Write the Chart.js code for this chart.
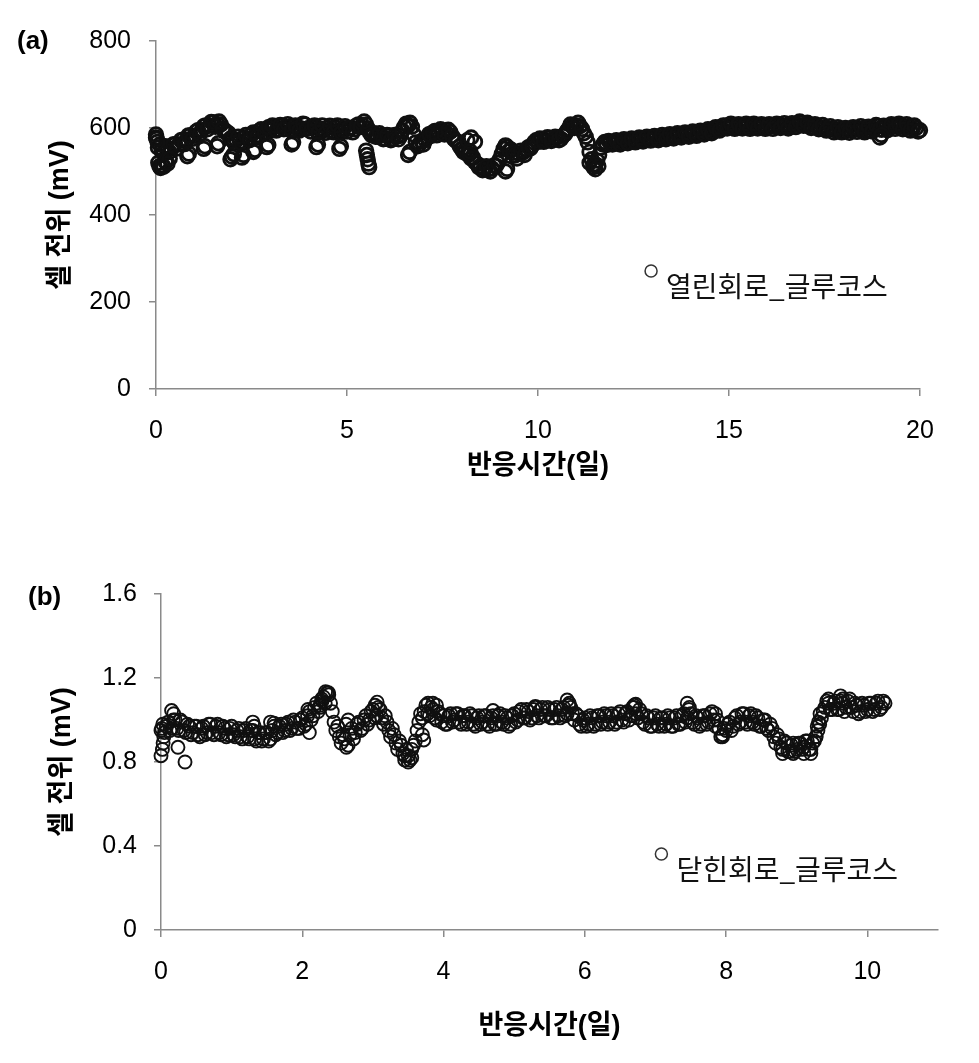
<!DOCTYPE html>
<html><head><meta charset="utf-8">
<script src="https://cdn.jsdelivr.net/npm/chart.js@4.4.1/dist/chart.umd.min.js"></script>
<style>
html,body{margin:0;padding:0;background:#fff;}
#wrap{position:relative;width:979px;height:1063px;overflow:hidden;}
#c1{position:absolute;left:0;top:0;}
#c2{position:absolute;left:0;top:520px;}
</style></head><body>
<div id="wrap"><canvas id="c1" width="979" height="520"></canvas><canvas id="c2" width="979" height="543"></canvas></div>
<script>
// ---------- (a) open circuit, glucose ----------
const daysA = [
0,0.1,0.2,0.3,0.4,0.5,0.6,0.7,0.8,0.9,
1,1.1,1.2,1.3,1.4,1.5,1.6,1.7,1.8,1.9,
2,2.1,2.2,2.3,2.4,2.5,2.6,2.7,2.8,2.9,
3,3.1,3.2,3.3,3.4,3.5,3.6,3.7,3.8,3.9,
4,4.1,4.2,4.3,4.4,4.5,4.6,4.7,4.8,4.9,
5,5.1,5.2,5.3,5.4,5.5,5.6,5.7,5.8,5.9,
6,6.1,6.2,6.3,6.4,6.5,6.6,6.7,6.8,6.9,
7,7.1,7.2,7.3,7.4,7.5,7.6,7.7,7.8,7.9,
8,8.1,8.2,8.3,8.4,8.5,8.6,8.7,8.8,8.9,
9,9.1,9.2,9.3,9.4,9.5,9.6,9.7,9.8,9.9,
10,10.1,10.2,10.3,10.4,10.5,10.6,10.7,10.8,10.9,
11,11.1,11.2,11.3,11.4,11.5,11.6,11.7,11.8,11.9,
12,12.1,12.2,12.3,12.4,12.5,12.6,12.7,12.8,12.9,
13,13.1,13.2,13.3,13.4,13.5,13.6,13.7,13.8,13.9,
14,14.1,14.2,14.3,14.4,14.5,14.6,14.7,14.8,14.9,
15,15.1,15.2,15.3,15.4,15.5,15.6,15.7,15.8,15.9,
16,16.1,16.2,16.3,16.4,16.5,16.6,16.7,16.8,16.9,
17,17.1,17.2,17.3,17.4,17.5,17.6,17.7,17.8,17.9,
18,18.1,18.2,18.3,18.4,18.5,18.6,18.7,18.8,18.9,
19,19.1,19.2,19.3,19.4,19.5,19.6,19.7,19.8,19.9,
20];
const mvA = [
578,562,542,550,552,563,562,573,572,583,
582,595,595,606,605,613,609,608,595,588,
572,573,569,578,575,585,582,593,589,598,
595,603,597,605,598,603,595,603,599,608,
600,601,594,599,595,600,593,601,594,599,
592,600,597,608,607,608,589,588,580,583,
575,583,575,580,582,603,605,603,567,563,
562,578,582,593,589,593,589,591,575,568,
552,547,540,532,518,512,506,505,507,513,
528,552,556,550,537,541,543,550,553,567,
568,575,571,577,573,579,575,585,598,605,
605,604,588,567,528,517,538,562,561,567,
564,568,566,571,568,573,570,575,572,577,
574,579,576,580,577,582,579,584,581,586,
583,588,586,591,588,594,593,600,599,605,
602,606,601,606,603,606,601,606,603,606,
601,606,603,608,603,606,603,609,607,612,
606,607,602,605,600,602,596,599,594,597,
592,597,594,599,596,599,594,600,598,604,
596,602,601,606,603,606,601,604,598,600,
595];
const daysAMid = [
0.05,0.15,0.25,0.35,0.45,0.55,0.65,0.75,0.85,0.95,
1.05,1.15,1.25,1.35,1.45,1.55,1.65,1.75,1.85,1.95,
2.05,2.15,2.25,2.35,2.45,2.55,2.65,2.75,2.85,2.95,
3.05,3.15,3.25,3.35,3.45,3.55,3.65,3.75,3.85,3.95,
4.05,4.15,4.25,4.35,4.45,4.55,4.65,4.75,4.85,4.95,
5.05,5.15,5.25,5.35,5.45,5.55,5.65,5.75,5.85,5.95,
6.05,6.15,6.25,6.35,6.45,6.55,6.65,6.75,6.85,6.95,
7.05,7.15,7.25,7.35,7.45,7.55,7.65,7.75,7.85,7.95,
8.05,8.15,8.25,8.35,8.45,8.55,8.65,8.75,8.85,8.95,
9.05,9.15,9.25,9.35,9.45,9.55,9.65,9.75,9.85,9.95,
10.05,10.15,10.25,10.35,10.45,10.55,10.65,10.75,10.85,10.95,
11.05,11.15,11.25,11.35,11.45,11.55,11.65,11.75,11.85,11.95,
12.05,12.15,12.25,12.35,12.45,12.55,12.65,12.75,12.85,12.95,
13.05,13.15,13.25,13.35,13.45,13.55,13.65,13.75,13.85,13.95,
14.05,14.15,14.25,14.35,14.45,14.55,14.65,14.75,14.85,14.95,
15.05,15.15,15.25,15.35,15.45,15.55,15.65,15.75,15.85,15.95,
16.05,16.15,16.25,16.35,16.45,16.55,16.65,16.75,16.85,16.95,
17.05,17.15,17.25,17.35,17.45,17.55,17.65,17.75,17.85,17.95,
18.05,18.15,18.25,18.35,18.45,18.55,18.65,18.75,18.85,18.95,
19.05,19.15,19.25,19.35,19.45,19.55,19.65,19.75,19.85,19.95];
const mvAMid = [
555,548,558,545,562,553,572,563,583,575,
592,586,604,597,614,603,615,598,590,576,
566,580,565,584,572,590,580,597,588,602,
606,594,607,597,609,596,606,594,610,598,
592,606,590,606,589,605,590,606,590,604,
600,590,606,602,615,598,583,580,588,574,
584,572,584,574,594,610,612,585,558,570,
572,586,590,583,597,585,596,582,571,558,
545,540,530,522,510,503,512,500,514,520,
540,560,548,543,530,548,538,556,560,572,
576,568,579,570,580,572,582,592,608,600,
612,598,580,545,515,525,555,568,570,562,
572,562,574,565,576,567,578,569,580,571,
582,572,584,574,586,576,588,578,590,580,
592,582,594,585,597,588,602,594,606,599,
610,598,609,599,610,598,610,599,609,598,
609,598,610,600,611,599,611,602,615,605,
612,600,609,597,607,594,604,590,602,590,
600,589,602,591,604,590,603,592,607,597,
605,595,609,598,610,597,609,594,606,592];
const daysAExtra = [0,0.02,0.04,0.06,0.09,0.12,0.16,0.2,0.25,0.3,0.36,
0.82,0.86,1.25,1.28,1.6,1.63,1.95,1.99,2.04,2.25,2.29,2.55,2.59,2.9,2.94,3.55,3.59,4.2,4.24,4.8,4.84,
5.5,5.52,5.54,5.56,5.58,6.6,6.64,8.15,8.25,8.35,8.2,8.23,9.15,9.19,11.35,11.45,11.5,11.58,18.95,18.99];
const mvAExtra = [585,575,568,520,512,508,515,511,522,518,530,
535,541,552,558,558,565,528,534,540,532,538,545,550,556,561,562,567,556,562,552,558,
548,538,528,518,510,538,545,572,578,568,540,546,500,506,520,510,505,512,578,584];
const xTicksA = [0,5,10,15,20];
const yTicksA = [0,200,400,600,800];

// ---------- (b) closed circuit, glucose ----------
const daysB = [
0,0.05,0.1,0.15,0.2,0.25,0.3,0.35,0.4,0.45,
0.5,0.55,0.6,0.65,0.7,0.75,0.8,0.85,0.9,0.95,
1,1.05,1.1,1.15,1.2,1.25,1.3,1.35,1.4,1.45,
1.5,1.55,1.6,1.65,1.7,1.75,1.8,1.85,1.9,1.95,
2,2.05,2.1,2.15,2.2,2.25,2.3,2.35,2.4,2.45,
2.5,2.55,2.6,2.65,2.7,2.75,2.8,2.85,2.9,2.95,
3,3.05,3.1,3.15,3.2,3.25,3.3,3.35,3.4,3.45,
3.5,3.55,3.6,3.65,3.7,3.75,3.8,3.85,3.9,3.95,
4,4.05,4.1,4.15,4.2,4.25,4.3,4.35,4.4,4.45,
4.5,4.55,4.6,4.65,4.7,4.75,4.8,4.85,4.9,4.95,
5,5.05,5.1,5.15,5.2,5.25,5.3,5.35,5.4,5.45,
5.5,5.55,5.6,5.65,5.7,5.75,5.8,5.85,5.9,5.95,
6,6.05,6.1,6.15,6.2,6.25,6.3,6.35,6.4,6.45,
6.5,6.55,6.6,6.65,6.7,6.75,6.8,6.85,6.9,6.95,
7,7.05,7.1,7.15,7.2,7.25,7.3,7.35,7.4,7.45,
7.5,7.55,7.6,7.65,7.7,7.75,7.8,7.85,7.9,7.95,
8,8.05,8.1,8.15,8.2,8.25,8.3,8.35,8.4,8.45,
8.5,8.55,8.6,8.65,8.7,8.75,8.8,8.85,8.9,8.95,
9,9.05,9.1,9.15,9.2,9.25,9.3,9.35,9.4,9.45,
9.5,9.55,9.6,9.65,9.7,9.75,9.8,9.85,9.9,9.95,
10,10.05,10.1,10.15,10.2,10.25];
const mvB = [
0.95,0.94,0.99,0.96,1.00,0.95,0.99,0.94,0.97,0.94,
0.97,0.92,0.97,0.94,0.98,0.93,0.98,0.93,0.96,0.93,
0.97,0.92,0.96,0.91,0.96,0.91,0.95,0.90,0.94,0.91,
0.94,0.91,0.97,0.94,0.98,0.95,0.99,0.96,0.99,0.96,
1.01,0.98,1.04,1.02,1.08,1.06,1.11,1.13,1.08,0.99,
0.97,0.89,0.91,0.88,0.96,0.94,0.99,0.96,1.02,1.00,
1.05,1.02,1.05,0.98,0.99,0.92,0.93,0.86,0.88,0.83,
0.83,0.86,0.90,0.99,1.01,1.07,1.02,1.05,1.00,1.03,
1.02,0.98,1.03,1.00,1.03,0.98,1.02,0.99,1.02,0.97,
1.02,0.99,1.02,0.97,1.02,0.98,1.03,0.98,1.01,0.98,
1.03,1.00,1.05,1.01,1.04,1.01,1.06,1.01,1.06,1.02,
1.05,1.01,1.06,1.01,1.06,1.03,1.06,1.00,1.02,0.97,
1.01,0.98,1.01,0.98,1.02,0.99,1.02,0.99,1.02,0.99,
1.04,0.99,1.04,1.02,1.07,1.01,1.03,0.98,1.01,0.97,
1.02,0.97,1.01,0.98,1.01,0.97,1.02,0.98,1.03,1.01,
1.03,0.98,1.01,0.98,1.02,0.99,1.04,0.97,0.96,0.93,
0.95,0.99,0.97,1.02,0.99,1.03,0.98,1.03,0.98,1.01,
0.97,1.00,0.95,0.96,0.89,0.91,0.86,0.89,0.85,0.89,
0.86,0.89,0.87,0.90,0.86,0.90,0.95,1.01,1.06,1.08,
1.05,1.09,1.05,1.08,1.06,1.10,1.04,1.07,1.04,1.07,
1.05,1.08,1.05,1.09,1.06,1.08];
const daysBMid = [
0.025,0.075,0.125,0.175,0.225,0.275,0.325,0.375,0.425,0.475,
0.525,0.575,0.625,0.675,0.725,0.775,0.825,0.875,0.925,0.975,
1.025,1.075,1.125,1.175,1.225,1.275,1.325,1.375,1.425,1.475,
1.525,1.575,1.625,1.675,1.725,1.775,1.825,1.875,1.925,1.975,
2.025,2.075,2.125,2.175,2.225,2.275,2.325,2.375,2.425,2.475,
2.525,2.575,2.625,2.675,2.725,2.775,2.825,2.875,2.925,2.975,
3.025,3.075,3.125,3.175,3.225,3.275,3.325,3.375,3.425,3.475,
3.525,3.575,3.625,3.675,3.725,3.775,3.825,3.875,3.925,3.975,
4.025,4.075,4.125,4.175,4.225,4.275,4.325,4.375,4.425,4.475,
4.525,4.575,4.625,4.675,4.725,4.775,4.825,4.875,4.925,4.975,
5.025,5.075,5.125,5.175,5.225,5.275,5.325,5.375,5.425,5.475,
5.525,5.575,5.625,5.675,5.725,5.775,5.825,5.875,5.925,5.975,
6.025,6.075,6.125,6.175,6.225,6.275,6.325,6.375,6.425,6.475,
6.525,6.575,6.625,6.675,6.725,6.775,6.825,6.875,6.925,6.975,
7.025,7.075,7.125,7.175,7.225,7.275,7.325,7.375,7.425,7.475,
7.525,7.575,7.625,7.675,7.725,7.775,7.825,7.875,7.925,7.975,
8.025,8.075,8.125,8.175,8.225,8.275,8.325,8.375,8.425,8.475,
8.525,8.575,8.625,8.675,8.725,8.775,8.825,8.875,8.925,8.975,
9.025,9.075,9.125,9.175,9.225,9.275,9.325,9.375,9.425,9.475,
9.525,9.575,9.625,9.675,9.725,9.775,9.825,9.875,9.925,9.975,
10.025,10.075,10.125,10.175,10.225];
const mvBMid = [
0.98,0.97,0.95,1.00,0.96,1.00,0.95,0.98,0.93,0.97,
0.93,0.96,0.93,0.98,0.94,0.97,0.94,0.97,0.92,0.96,
0.93,0.95,0.92,0.95,0.92,0.95,0.91,0.94,0.90,0.94,
0.90,0.95,0.93,0.97,0.94,0.98,0.95,1.00,0.96,1.00,
0.97,1.02,1.00,1.06,1.04,1.10,1.08,1.12,1.04,0.95,
0.92,0.93,0.87,0.93,0.91,0.98,0.95,1.00,0.98,1.04,
1.01,1.06,1.01,1.02,0.95,0.96,0.89,0.90,0.84,0.86,
0.81,0.88,0.95,1.03,1.04,1.03,1.06,1.01,1.04,0.99,
0.98,1.02,0.99,1.03,0.99,1.02,0.98,1.03,0.98,1.01,
0.98,1.02,0.98,1.01,0.98,1.02,0.99,1.02,0.97,1.02,
0.99,1.04,1.01,1.05,1.00,1.05,1.02,1.05,1.02,1.06,
1.01,1.05,1.02,1.05,1.02,1.07,1.03,1.03,0.98,1.00,
0.97,1.02,0.97,1.02,0.98,1.03,0.98,1.03,0.98,1.03,
1.00,1.03,1.00,1.06,1.03,1.05,0.99,1.02,0.97,1.01,
0.98,1.01,0.97,1.02,0.97,1.01,0.98,1.02,0.99,1.05,
0.99,1.02,0.97,1.02,0.98,1.03,1.00,1.00,0.92,0.96,
0.98,0.95,1.01,0.98,1.03,0.99,1.02,0.99,1.02,0.97,
1.00,0.96,0.98,0.92,0.93,0.87,0.90,0.85,0.88,0.85,
0.89,0.86,0.90,0.86,0.89,0.92,0.98,1.04,1.09,1.05,
1.08,1.05,1.09,1.04,1.09,1.06,1.08,1.03,1.08,1.04,
1.08,1.04,1.08,1.05,1.09];
const daysBExtra = [0,0.02,0.03,0.04,0.01,0.15,0.18,0.24,0.34,
1.3,1.32,1.55,1.6,
2.08,2.1,2.25,2.28,2.33,2.37,
2.62,2.65,3.03,3.06,
3.45,3.5,3.55,3.7,3.72,3.78,3.85,3.9,
4.7,5.3,5.75,5.78,6.7,6.72,7.45,7.48,7.85,7.95,
8.8,8.95,9.1,9.2,9.27,9.29,9.31,9.33,9.45,9.62,9.65];
const mvBExtra = [0.83,0.86,0.89,0.92,0.96,1.045,1.03,0.87,0.80,
0.99,0.97,0.99,0.985,
1.05,0.94,1.07,1.09,1.135,1.13,
0.98,1.00,1.07,1.085,
0.81,0.80,0.82,0.93,0.905,1.08,1.08,1.07,
1.045,1.065,1.095,1.08,1.06,1.075,1.08,1.06,1.03,0.92,
0.84,0.84,0.84,0.84,0.92,0.97,0.99,1.03,1.10,1.115,1.10];
const xTicksB = [0,2,4,6,8,10];
const yTicksB = [0,0.4,0.8,1.2,1.6];
const xMaxB = 11;

const labelA = '열린회로_글루코스';
const labelB = '닫힌회로_글루코스';
const xTitle = '반응시간(일)';
const yTitle = '셀 전위 (mV)';

// ---------- drawing ----------
const NUM_FONT = "'Liberation Sans', Arial, sans-serif";
const KOR_FONT = "'Liberation Sans', 'Noto Sans CJK KR', sans-serif";
const AXIS_COLOR = '#8a8a8a';

function pts(xs, ys) { return xs.map((x, i) => ({x: x, y: ys[i]})); }

const overlay = {
  id: 'overlay',
  afterDraw(chart, args, o) {
    const ctx = chart.ctx, a = chart.chartArea;
    ctx.save();
    ctx.fillStyle = '#000';
    ctx.textAlign = 'left';
    ctx.textBaseline = 'middle';
    ctx.font = "bold 26px " + NUM_FONT;
    ctx.fillText(o.panel, o.panelX, o.panelY);
    const cx = a.left + o.legX * (a.right - a.left);
    const cy = a.top + o.legY * (a.bottom - a.top);
    ctx.beginPath();
    ctx.arc(cx, cy, 6, 0, Math.PI * 2);
    ctx.lineWidth = 1.5;
    ctx.strokeStyle = '#333';
    ctx.stroke();
    ctx.font = "28px 'Noto Sans CJK KR', sans-serif";
    ctx.fillStyle = '#111';
    ctx.fillText(chart.data.datasets[0].label, cx + 15, cy + 15);
    ctx.restore();
  }
};

function makeChart(canvas, cfg) {
  return new Chart(canvas, {
    type: 'scatter',
    data: {datasets: [{
      label: cfg.label,
      data: pts(cfg.xs, cfg.ys).concat(pts(cfg.xm, cfg.ym), pts(cfg.xe, cfg.ye)),
      pointStyle: 'circle',
      pointRadius: cfg.r,
      pointBorderWidth: cfg.bw,
      pointBorderColor: '#101010',
      pointBackgroundColor: 'rgba(0,0,0,0)',
      clip: false
    }]},
    plugins: [overlay],
    options: {
      responsive: false,
      animation: false,
      events: [],
      layout: {padding: {left: 0, right: cfg.padRight, top: cfg.padTop, bottom: 0}},
      plugins: {
        legend: {display: false},
        tooltip: {enabled: false},
        overlay: cfg.overlay
      },
      scales: {
        x: {
          type: 'linear',
          min: cfg.xTicks[0], max: cfg.xMax,
          afterBuildTicks: s => { s.ticks = cfg.xTicks.map(v => ({value: v})); },
          afterFit: s => { s.height = cfg.xHeight; },
          grid: {display: true, drawOnChartArea: false, drawTicks: true, tickLength: 7, color: AXIS_COLOR, lineWidth: 1.5},
          border: {display: true, color: AXIS_COLOR, width: 1.5},
          ticks: {color: '#000', font: {family: NUM_FONT, size: 25}, padding: 20, maxRotation: 0, autoSkip: false, callback: v => String(v)},
          title: {display: true, text: xTitle, color: '#000', font: {family: KOR_FONT, size: 27, weight: 'bold'}, padding: {top: 0, bottom: cfg.xTitlePad}}
        },
        y: {
          type: 'linear',
          min: cfg.yTicks[0], max: cfg.yTicks[cfg.yTicks.length - 1],
          afterBuildTicks: s => { s.ticks = cfg.yTicks.map(v => ({value: v})); },
          afterFit: s => { s.width = cfg.yWidth; },
          grid: {display: true, drawOnChartArea: false, drawTicks: true, tickLength: 7, color: AXIS_COLOR, lineWidth: 1.5},
          border: {display: true, color: AXIS_COLOR, width: 1.5},
          ticks: {color: '#000', font: {family: NUM_FONT, size: 25}, padding: cfg.yTickPad, autoSkip: false, callback: v => String(v)},
          title: {display: true, text: yTitle, color: '#000', font: {family: KOR_FONT, size: 27, weight: 'bold'}, padding: {top: cfg.yTitlePad, bottom: 0}}
        }
      }
    }
  });
}

makeChart(document.getElementById('c1'), {
  label: labelA, xs: daysA, ys: mvA, xm: daysAMid, ym: mvAMid, xe: daysAExtra, ye: mvAExtra,
  r: 6.8, bw: 2.8,
  xTicks: xTicksA, xMax: xTicksA[xTicksA.length - 1], yTicks: yTicksA,
  padRight: 59, padTop: 41, xHeight: 131, yWidth: 156,
  xTitlePad: 37, yTitlePad: 44, yTickPad: 18,
  overlay: {panel: '(a)', panelX: 17, panelY: 42, legX: 0.648, legY: 0.661}
});

makeChart(document.getElementById('c2'), {
  label: labelB, xs: daysB, ys: mvB, xm: daysBMid, ym: mvBMid, xe: daysBExtra, ye: mvBExtra,
  r: 6.5, bw: 1.9,
  xTicks: xTicksB, xMax: xMaxB, yTicks: yTicksB,
  padRight: 41, padTop: 74, xHeight: 133, yWidth: 161,
  xTitlePad: 20, yTitlePad: 46, yTickPad: 17,
  overlay: {panel: '(b)', panelX: 28, panelY: 78, legX: 0.644, legY: 0.774}
});
</script>
</body></html>
